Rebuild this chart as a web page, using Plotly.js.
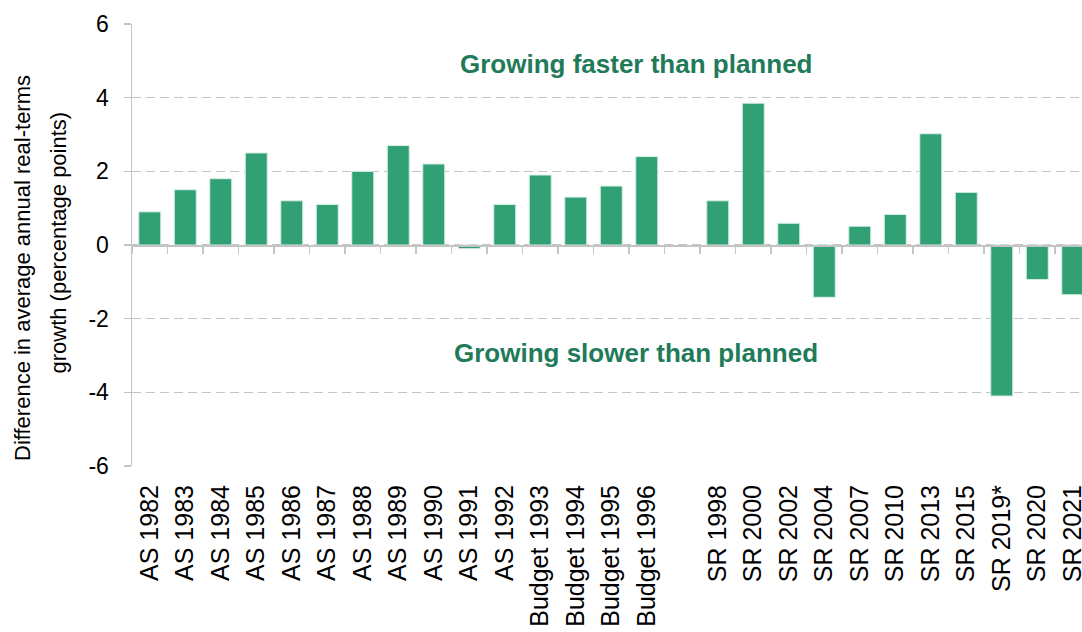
<!DOCTYPE html>
<html>
<head>
<meta charset="utf-8">
<script src="https://cdn.plot.ly/plotly-3.0.1.min.js"></script>
<style>html,body{margin:0;padding:0;background:#fff;}#chart{width:1082px;height:632px;}</style>
</head>
<body>
<div id="chart"></div>
<script>
const categories = ["AS 1982","AS 1983","AS 1984","AS 1985","AS 1986","AS 1987","AS 1988","AS 1989","AS 1990","AS 1991","AS 1992","Budget 1993","Budget 1994","Budget 1995","Budget 1996"," ","SR 1998","SR 2000","SR 2002","SR 2004","SR 2007","SR 2010","SR 2013","SR 2015","SR 2019*","SR 2020","SR 2021"];
const values = [0.9,1.5,1.8,2.5,1.2,1.1,2.0,2.7,2.2,-0.1,1.1,1.9,1.3,1.6,2.4,null,1.2,3.85,0.59,-1.42,0.51,0.83,3.02,1.43,-4.1,-0.94,-1.35];
const yTicks = [-6,-4,-2,0,2,4,6];
const yTitleLines = ["Difference in average annual real-terms","growth (percentage points)"];
const annotationsText = ["Growing faster than planned","Growing slower than planned"];
const annotationY = [4.92,-2.93];

const FONT = "Liberation Sans, Arial, sans-serif";
const GREEN = "#31a075";
const TEXTGREEN = "#217a58";
const GRID = "#c4c4c4";

const xr = [-0.5, 26.26];

const traces = [
  {
    type: "bar",
    x: categories,
    y: values,
    marker: {color: GREEN, line: {color: "#d9efe5", width: 1}},
    hoverinfo: "x+y",
    xaxis: "x",
    yaxis: "y"
  },
  {
    type: "scatter",
    mode: "markers",
    x: categories,
    y: categories.map(() => 0),
    marker: {opacity: 0, size: 0.1},
    hoverinfo: "skip",
    showlegend: false,
    xaxis: "x2",
    yaxis: "y"
  }
];

const titleAnn = [
  {text: yTitleLines[0], x: -0.1153, y: 0.449},
  {text: yTitleLines[1], x: -0.0784, y: 0.5045}
].map(a => ({
  text: a.text,
  xref: "paper",
  yref: "paper",
  x: a.x,
  y: a.y,
  xanchor: "center",
  yanchor: "middle",
  textangle: -90,
  showarrow: false,
  font: {family: FONT, size: 22, color: "#000"}
}));

const layout = {
  width: 1082,
  height: 632,
  margin: {l: 132, r: 0, t: 24, b: 166},
  paper_bgcolor: "#fff",
  plot_bgcolor: "#fff",
  showlegend: false,
  bargap: 0.38,
  font: {family: FONT, color: "#000"},
  xaxis: {
    type: "category",
    categoryorder: "array",
    categoryarray: categories,
    range: xr,
    showgrid: false,
    zeroline: false,
    showline: false,
    ticks: "",
    tickangle: -90,
    tickfont: {family: FONT, size: 25, color: "#000"},
    ticklabelstandoff: 13,
    fixedrange: true
  },
  xaxis2: {
    type: "category",
    categoryorder: "array",
    categoryarray: categories,
    range: xr,
    overlaying: "x",
    anchor: "free",
    position: 0.5,
    side: "bottom",
    showgrid: false,
    zeroline: false,
    showline: true,
    linecolor: GRID,
    linewidth: 1.5,
    ticks: "outside",
    tickson: "boundaries",
    ticklen: 7,
    tickcolor: GRID,
    tickwidth: 1.5,
    showticklabels: false,
    fixedrange: true
  },
  yaxis: {
    range: [-6, 6],
    tickvals: yTicks,
    ticktext: yTicks.map(String),
    showgrid: true,
    gridcolor: GRID,
    griddash: "9px,5px",
    gridwidth: 1.5,
    zeroline: false,
    showline: true,
    linecolor: GRID,
    linewidth: 1.5,
    ticks: "outside",
    ticklen: 7,
    tickcolor: GRID,
    tickwidth: 1.5,
    ticklabelstandoff: 10,
    tickfont: {family: FONT, size: 23, color: "#000"},
    fixedrange: true
  },
  annotations: titleAnn.concat(annotationsText.map((t, i) => ({
    text: "<b>" + t + "</b>",
    xref: "paper",
    yref: "y",
    x: 0.53,
    y: annotationY[i],
    xanchor: "center",
    yanchor: "middle",
    showarrow: false,
    font: {family: FONT, size: 26, color: TEXTGREEN}
  })))
};

Plotly.newPlot("chart", traces, layout, {displayModeBar: false, staticPlot: true});
</script>
</body>
</html>
